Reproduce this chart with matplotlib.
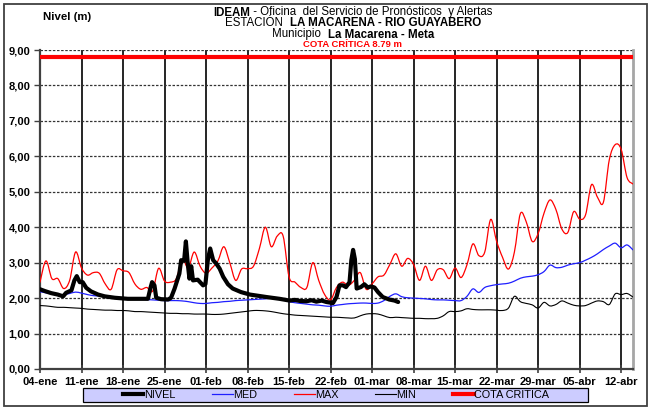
import numpy as np
import matplotlib
matplotlib.use("Agg")
import matplotlib.pyplot as plt
from matplotlib.path import Path
from matplotlib.patches import PathPatch, Rectangle
from matplotlib.lines import Line2D

plt.rcParams['font.family'] = ['Liberation Sans', 'DejaVu Sans']

# ---- data -------------------------------------------------------------
# days counted from 04-ene
week_labels = ["04-ene", "11-ene", "18-ene", "25-ene", "01-feb", "08-feb", "15-feb",
               "22-feb", "01-mar", "08-mar", "15-mar", "22-mar", "29-mar", "05-abr", "12-abr"]
y_labels = ["0,00", "1,00", "2,00", "3,00", "4,00", "5,00", "6,00", "7,00", "8,00", "9,00"]

hist_days = list(range(101))

max_vals = [2.45, 3.05, 2.55, 2.55, 2.27, 2.50, 3.30, 2.85, 2.65, 2.72,
            2.70, 2.40, 2.25, 2.80, 2.77, 2.72, 2.40, 2.25, 2.30, 2.20,
            2.84, 2.48, 2.45, 2.55, 3.10, 2.85, 3.30, 2.90, 2.70, 2.85,
            3.05, 3.45, 3.00, 2.50, 2.82, 2.83, 2.90, 3.40, 4.00, 3.45,
            3.75, 3.75, 2.60, 2.45, 2.30, 2.30, 3.00, 2.50, 2.10, 1.95,
            2.30, 2.45, 2.36, 2.50, 2.72, 2.25, 2.40, 2.60, 2.65, 2.95,
            3.25, 2.90, 3.12, 2.95, 2.50, 2.90, 2.50, 2.80, 2.80, 2.55,
            2.85, 2.58, 2.94, 3.53, 3.20, 3.30, 4.22, 3.60, 3.15, 2.82,
            3.30, 4.38, 4.15, 3.60, 3.82, 4.40, 4.77, 4.50, 3.95, 3.85,
            4.44, 4.23, 4.35, 5.20, 4.85, 4.70, 5.90, 6.33, 6.20, 5.40,
            5.22]

med_vals = [2.18, 2.15, 2.12, 2.10, 2.10, 2.13, 2.17, 2.14, 2.10, 2.07,
            2.06, 2.05, 2.03, 2.02, 2.01, 2.00, 1.98, 1.97, 1.96, 1.95,
            1.94, 1.93, 1.93, 1.93, 1.92, 1.90, 1.87, 1.85, 1.85, 1.87,
            1.88, 1.90, 1.91, 1.93, 1.94, 1.95, 1.96, 1.97, 1.98, 2.00,
            2.01, 1.95, 1.90, 1.87, 1.85, 1.83, 1.81, 1.80, 1.78, 1.77,
            1.80, 1.82, 1.84, 1.85, 1.86, 1.86, 1.85, 1.86, 1.93, 2.05,
            2.12, 2.04, 2.01, 2.00, 1.99, 1.98, 1.96, 1.95, 1.95, 1.94,
            1.93, 1.93, 2.05, 2.26, 2.16, 2.30, 2.35, 2.38, 2.40, 2.42,
            2.48, 2.56, 2.60, 2.62, 2.66, 2.75, 2.93, 2.86, 2.87, 2.93,
            2.97, 3.00, 3.07, 3.15, 3.25, 3.37, 3.47, 3.55, 3.42, 3.50,
            3.36]

min_vals = [1.79, 1.78, 1.76, 1.74, 1.74, 1.73, 1.72, 1.71, 1.69, 1.68,
            1.67, 1.66, 1.66, 1.65, 1.65, 1.64, 1.62, 1.62, 1.61, 1.60,
            1.59, 1.58, 1.57, 1.57, 1.56, 1.56, 1.55, 1.55, 1.55, 1.54,
            1.54, 1.55, 1.57, 1.59, 1.61, 1.63, 1.65, 1.65, 1.64, 1.62,
            1.59, 1.56, 1.54, 1.52, 1.51, 1.50, 1.49, 1.48, 1.47, 1.46,
            1.46, 1.45, 1.44, 1.44, 1.50, 1.55, 1.56, 1.55, 1.50, 1.45,
            1.46, 1.45, 1.44, 1.43, 1.43, 1.42, 1.42, 1.43, 1.50, 1.62,
            1.62, 1.64, 1.70, 1.68, 1.67, 1.67, 1.67, 1.66, 1.65, 1.72,
            2.05, 1.90, 1.85, 1.81, 1.72, 1.88, 1.78, 1.82, 1.92, 1.86,
            1.80, 1.78, 1.79, 1.86, 1.92, 1.90, 1.82, 2.12, 2.10, 2.13,
            2.03]

# observed stage readings (several per day)
nivel_days = [0.0, 0.8, 1.9, 3.0, 3.9, 4.4, 5.3, 5.8, 6.2, 6.7, 7.2, 7.8, 8.6, 9.8,
              10.9, 12.6, 14.8, 16.5, 18.2, 18.6, 18.9, 19.3, 19.6, 20.4, 21.6, 22.1,
              22.7, 23.5, 23.8, 24.3, 24.6, 24.9, 25.2, 25.5, 25.8, 26.6, 27.5, 27.9,
              28.3, 28.7, 29.2, 29.7, 30.3, 30.9, 31.7, 32.5, 33.9, 35.4, 38.2, 40.4,
              42.1, 43.0, 43.8, 44.9, 45.8, 46.6, 47.5, 48.3, 49.4, 50.0, 50.5, 51.1,
              51.6, 52.2, 52.5, 52.8, 53.1, 53.4, 54.1, 54.7, 55.3, 55.8, 56.4, 57.0,
              57.8, 58.9, 59.8, 60.4]
nivel_vals = [2.25, 2.20, 2.14, 2.10, 2.05, 2.15, 2.22, 2.50, 2.62, 2.45, 2.45, 2.29, 2.19, 2.10,
              2.05, 2.01, 1.98, 1.98, 1.98, 2.27, 2.45, 2.36, 2.01, 1.97, 1.96, 2.01,
              2.27, 2.69, 3.07, 3.05, 3.60, 3.00, 2.55, 2.90, 2.50, 2.52, 2.36, 2.40,
              3.07, 3.40, 3.07, 2.98, 2.83, 2.60, 2.39, 2.27, 2.17, 2.10, 2.03, 1.98,
              1.93, 1.95, 1.92, 1.91, 1.94, 1.90, 1.93, 1.89, 1.86, 2.03, 2.36, 2.36,
              2.31, 2.45, 3.07, 3.36, 3.10, 2.27, 2.31, 2.39, 2.30, 2.33, 2.30, 2.17,
              2.03, 1.96, 1.93, 1.89]

cota_critica = 8.79

# ---- helpers ----------------------------------------------------------
def smooth_path(x, y):
    """Bezier curve passing through every (x, y) point."""
    pts = np.column_stack([x, y]).astype(float)
    n = len(pts)
    verts = [pts[0]]
    codes = [Path.MOVETO]
    for i in range(n - 1):
        p0 = pts[max(i - 1, 0)]
        p1 = pts[i]
        p2 = pts[i + 1]
        p3 = pts[min(i + 2, n - 1)]
        verts += [p1 + (p2 - p0) / 6.0, p2 - (p3 - p1) / 6.0, p2]
        codes += [Path.CURVE4] * 3
    return Path(verts, codes)


def add_curve(ax, x, y, color, lw, z):
    patch = PathPatch(smooth_path(x, y), facecolor='none', edgecolor=color,
                      lw=lw, zorder=z, capstyle='round', joinstyle='round')
    ax.add_patch(patch)


# ---- figure -----------------------------------------------------------
W, H = 651, 409
fig = plt.figure(figsize=(W / 100, H / 100), dpi=100)
fig.patch.set_facecolor('white')
ax = fig.add_axes([40 / W, 40 / H, 593 / W, 319 / H])

add_curve(ax, hist_days, min_vals, 'black', 0.8, 3)
add_curve(ax, hist_days, med_vals, '#1f1fff', 0.9, 4)
add_curve(ax, hist_days, max_vals, '#ff0000', 0.9, 5)
ax.plot(nivel_days, nivel_vals, color='black', lw=3.0, zorder=6,
        solid_capstyle='round', solid_joinstyle='round')
ax.axhline(cota_critica, color='#ff0000', lw=3.0, zorder=7)

ax.set_xlim(0, 100)
ax.set_ylim(0, 9)
ax.set_xticks(np.arange(len(week_labels)) * 7)
ax.set_xticklabels(week_labels, fontsize=8, fontweight='bold')
ax.set_yticks(range(len(y_labels)))
ax.set_yticklabels(y_labels, fontsize=8, fontweight='bold')

ax.yaxis.grid(True, color='#333333', lw=0.9, linestyle=(0, (2, 1.3)), zorder=1)
ax.xaxis.grid(True, color='black', lw=1.2, linestyle='-', zorder=1)
ax.set_axisbelow(True)

ax.tick_params(axis='x', direction='inout', length=6, width=1.2, color='#404040', pad=3)
ax.tick_params(axis='y', direction='out', length=4, width=1.0, color='#404040', pad=3)

for side in ('left', 'bottom'):
    ax.spines[side].set_color('#404040')
    ax.spines[side].set_linewidth(1.6)
ax.spines['top'].set_visible(False)
ax.spines['right'].set_color('#a6a6a6')
ax.spines['right'].set_linewidth(2.0)

# outer frame
fig.patches.append(Rectangle((3.5 / W, 3.5 / H), 643 / W, 402 / H, transform=fig.transFigure,
                             fill=False, edgecolor='#404040', lw=1.3))

# ---- header text ------------------------------------------------------
renderer = fig.canvas.get_renderer()


def centered_runs(runs, xc, y, size, color='black'):
    objs = []
    for txt, weight in runs:
        t = fig.text(0, y, txt, fontsize=size, fontweight=weight, color=color,
                     ha='left', va='center')
        objs.append(t)
    widths = [o.get_window_extent(renderer).width for o in objs]
    total = sum(widths)
    x = xc * W - total / 2
    for o, w in zip(objs, widths):
        o.set_x(x / W)
        x += w


centered_runs([("IDEAM", 'bold'), (" - Oficina  del Servicio de Pronósticos  y Alertas", 'normal')],
              353 / W, 1 - 12.5 / H, 8.3)
centered_runs([("ESTACIÓN  ", 'normal'), ("LA MACARENA - RIO GUAYABERO", 'bold')],
              353 / W, 1 - 23.5 / H, 8.3)
centered_runs([("Municipio  ", 'normal'), ("La Macarena - Meta", 'bold')],
              353 / W, 1 - 34.5 / H, 8.3)
fig.text(353 / W, 1 - 44.5 / H, "COTA CRÍTICA 8.79 m", fontsize=6.8, fontweight='bold',
         color='#ff0000', ha='center', va='center')
fig.text(43 / W, 1 - 16.5 / H, "Nivel (m)", fontsize=8.2, fontweight='bold',
         ha='left', va='center')

# ---- legend -----------------------------------------------------------
fig.patches.append(Rectangle((83 / W, (H - 402) / H), 505 / W, 14 / H, transform=fig.transFigure,
                             facecolor='#ccccff', edgecolor='black', lw=0.9, zorder=0))
handles = [Line2D([], [], color='black', lw=3.0),
           Line2D([], [], color='#1f1fff', lw=0.9),
           Line2D([], [], color='#ff0000', lw=0.9),
           Line2D([], [], color='black', lw=0.8),
           Line2D([], [], color='#ff0000', lw=3.0)]
names = ["NIVEL", "MED", "MAX", "MIN", "COTA CRITICA"]
fig.legend(handles, names, loc='center', bbox_to_anchor=(336 / W, (H - 395) / H),
           ncol=5, frameon=False, fontsize=7.8, handlelength=1.9, handletextpad=0.05,
           columnspacing=3.4, borderpad=0, borderaxespad=0)

fig.savefig("out.png", dpi=100)
